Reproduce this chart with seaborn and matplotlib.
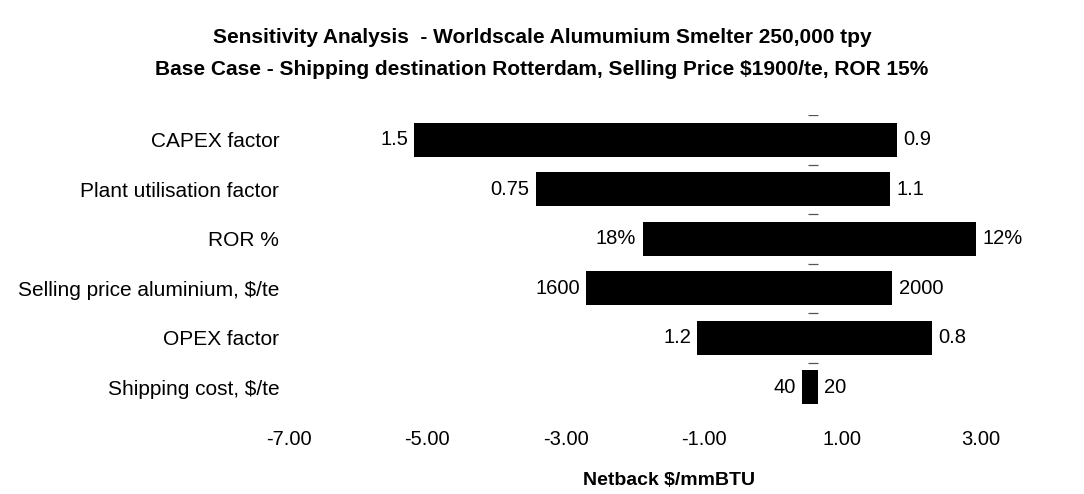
import matplotlib
matplotlib.use("Agg")
import matplotlib.pyplot as plt
import seaborn as sns
import pandas as pd

# Sensitivity inputs (top to bottom) and the netback range each one produces
categories = [
    "CAPEX factor",
    "Plant utilisation factor",
    "ROR %",
    "Selling price aluminium, $/te",
    "OPEX factor",
    "Shipping cost, $/te",
]
low_netback = [-5.19, -3.43, -1.89, -2.70, -1.10, 0.42]
high_netback = [1.79, 1.69, 2.93, 1.72, 2.30, 0.64]
low_labels = ["1.5", "0.75", "18%", "1600", "1.2", "40"]
high_labels = ["0.9", "1.1", "12%", "2000", "0.8", "20"]
base_netback = 0.58

x_ticks = [-7, -5, -3, -1, 1, 3]
x_tick_labels = ["-7.00", "-5.00", "-3.00", "-1.00", "1.00", "3.00"]

df = pd.DataFrame({
    "input": categories,
    "low": low_netback,
    "high": high_netback,
    "low_label": low_labels,
    "high_label": high_labels,
})
df["span"] = df["high"] - df["low"]

sns.set_theme(style="white")
plt.rcParams["font.family"] = ["Liberation Sans", "DejaVu Sans"]
plt.rcParams["text.parse_math"] = False
plt.rcParams["axes.unicode_minus"] = False
plt.rcParams["text.color"] = "black"
plt.rcParams["axes.labelcolor"] = "black"
plt.rcParams["xtick.color"] = "black"
plt.rcParams["ytick.color"] = "black"

W, H = 1084, 494
fig = plt.figure(figsize=(W / 100, H / 100), dpi=100)
fig.patch.set_facecolor("white")
ax = fig.add_axes([289 / W, 1 - 412 / H, 761 / W, 297 / H])

ypos = list(range(len(df)))
ax.barh(ypos, df["span"], left=df["low"], height=0.69, color="black",
        edgecolor="black", linewidth=0)

for y, lo, hi, ll, hl in zip(ypos, df["low"], df["high"],
                             df["low_label"], df["high_label"]):
    ax.annotate(ll, (lo, y), xytext=(-4.5, 0), textcoords="offset points",
                ha="right", va="center", fontsize=14.5, color="black")
    ax.annotate(hl, (hi, y), xytext=(4.5, 0), textcoords="offset points",
                ha="left", va="center", fontsize=14.5, color="black")

# category-axis tick marks crossing at the base case
ax.plot([base_netback] * len(df), [y - 0.5 for y in ypos], linestyle="none",
        marker="_", markersize=7, color="#555555", markeredgewidth=0.9)

ax.set_xlim(-7, 4)
ax.set_ylim(len(df) - 0.5, -0.5)
ax.set_yticks(ypos)
ax.set_yticklabels(df["input"], fontsize=15)
ax.set_xticks(x_ticks)
ax.set_xticklabels(x_tick_labels, fontsize=14.5)
ax.tick_params(axis="x", length=0, pad=13)
ax.tick_params(axis="y", length=0, pad=7)
for s in ax.spines.values():
    s.set_visible(False)
ax.grid(False)
ax.set_facecolor("white")

ax.set_xlabel("Netback $/mmBTU", fontsize=14, fontweight="bold")
ax.xaxis.set_label_coords(0.5, -(472 - 412) / 297)

fig.text(0.5, 1 - 43 / H,
         "Sensitivity Analysis  - Worldscale Alumumium Smelter 250,000 tpy",
         ha="center", va="baseline", fontsize=15, fontweight="bold")
fig.text(0.5, 1 - 75 / H,
         "Base Case - Shipping destination Rotterdam, Selling Price $1900/te, ROR 15%",
         ha="center", va="baseline", fontsize=15, fontweight="bold")

fig.savefig("out.png", dpi=100, facecolor="white")
